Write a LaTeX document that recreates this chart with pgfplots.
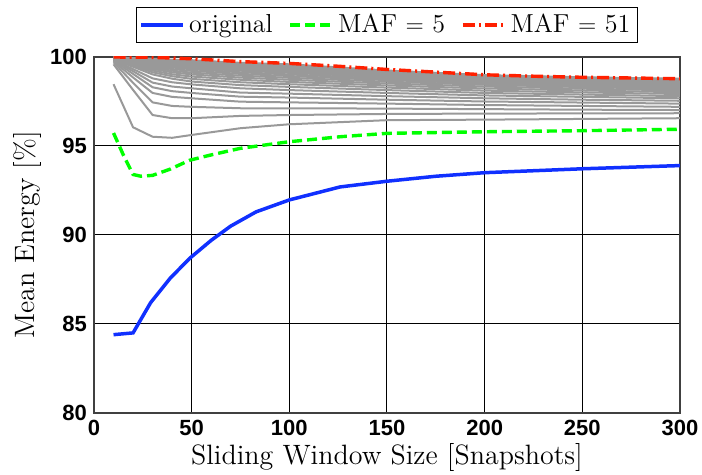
\documentclass[border=0pt]{standalone}
\usepackage{fontspec}
\usepackage{pgfplots}
\usepackage{pgfplotstable}
\pgfplotsset{compat=1.18}
\newfontfamily\ticksf{Liberation Sans}

\definecolor{origblue}{RGB}{16,48,255}
\definecolor{mafgreen}{RGB}{0,255,0}
\definecolor{mafred}{RGB}{255,32,0}
\definecolor{fangray}{RGB}{153,153,153}

% gray fan: MAF = 7, 9, ..., 49 (one column each)
\pgfplotstableread{
x   g1    g2    g3    g4    g5    g6    g7    g8    g9    g10   g11   g12   g13   g14   g15   g16   g17   g18   g19   g20   g21   g22
10  98.47 99.59 99.70 99.76 99.80 99.83 99.85 99.87 99.89 99.90 99.91 99.92 99.93 99.94 99.95 99.96 99.97 99.97 99.98 99.98 99.99 99.99
20  96.05 98.15 98.55 98.85 99.05 99.20 99.32 99.45 99.52 99.57 99.62 99.66 99.70 99.74 99.77 99.80 99.83 99.86 99.88 99.90 99.92 99.94
30  95.52 96.74 97.45 97.98 98.30 98.56 98.80 99.02 99.14 99.24 99.33 99.41 99.48 99.55 99.60 99.65 99.70 99.75 99.79 99.83 99.87 99.90
40  95.46 96.56 97.25 97.76 98.08 98.34 98.58 98.78 98.92 99.03 99.14 99.23 99.32 99.41 99.48 99.55 99.61 99.67 99.72 99.77 99.81 99.85
50  95.62 96.56 97.20 97.68 97.98 98.24 98.46 98.62 98.77 98.90 99.02 99.12 99.22 99.31 99.39 99.47 99.54 99.61 99.66 99.72 99.77 99.82
75  96.00 96.69 97.12 97.49 97.77 98.00 98.24 98.42 98.58 98.72 98.84 98.95 99.05 99.14 99.23 99.31 99.38 99.45 99.51 99.57 99.62 99.67
100 96.22 96.74 97.12 97.45 97.72 97.94 98.14 98.32 98.47 98.60 98.72 98.83 98.93 99.02 99.11 99.19 99.27 99.34 99.41 99.48 99.54 99.59
150 96.45 96.80 97.10 97.38 97.60 97.80 97.98 98.14 98.28 98.40 98.51 98.61 98.70 98.78 98.86 98.93 99.00 99.06 99.11 99.16 99.20 99.24
200 96.48 96.82 97.07 97.30 97.50 97.68 97.84 97.98 98.11 98.23 98.34 98.44 98.52 98.60 98.67 98.73 98.79 98.84 98.88 98.92 98.95 98.98
250 96.52 96.83 97.04 97.25 97.44 97.60 97.76 97.89 98.01 98.12 98.22 98.31 98.39 98.47 98.54 98.60 98.66 98.71 98.76 98.80 98.83 98.86
300 96.56 96.84 97.02 97.20 97.38 97.54 97.68 97.80 97.92 98.02 98.12 98.20 98.28 98.36 98.43 98.50 98.56 98.62 98.67 98.71 98.75 98.78
}\grays

\begin{document}
\begin{tikzpicture}
\begin{axis}[
  scale only axis, width=293pt, height=178pt,
  xmin=0, xmax=300, ymin=80, ymax=100,
  xtick={0,50,...,300}, ytick={80,85,...,100},
  grid=major, major grid style={black, line width=0.5pt},
  major tick length=0pt,
  axis line style={black!75, line width=0.6pt},
  tick label style={font=\fontsize{11}{13}\selectfont\ticksf\bfseries},
  /pgf/number format/assume math mode=true,
  label style={font=\fontsize{14}{16}\selectfont},
  xlabel={Sliding Window Size [Snapshots]},
  ylabel={Mean Energy [\%]},
  xlabel style={yshift=3pt},
  ylabel style={yshift=-2.5pt},
  legend columns=3,
  legend style={at={(0.5,1)}, anchor=south, yshift=7pt, draw=black,
    font=\fontsize{13}{15}\selectfont, inner sep=1.5pt,
    /tikz/every even column/.append style={column sep=6pt}},
  legend image code/.code={\draw[#1] (0pt,0pt) -- (21pt,0pt);},
]
\pgfplotsinvokeforeach{1,...,22}{
  \addplot[fangray, line width=1pt, forget plot] table[x=x, y=g#1] {\grays};
}
\addplot[origblue, line width=1.75pt] coordinates {
(10,84.40)(20,84.50)(29,86.20)(39,87.57)(49,88.69)(60,89.70)(70,90.50)(83,91.30)
(100,91.97)(126,92.70)(150,93.02)(175,93.30)(200,93.50)(250,93.72)(300,93.90)};
\addlegendentry{original}
\addplot[mafgreen, line width=1.7pt, dash pattern=on 5pt off 2.5pt] coordinates {
(10,95.73)(15,94.50)(20,93.40)(24,93.30)(30,93.35)(39,93.70)(49,94.20)(60,94.50)
(75,94.87)(100,95.24)(126,95.52)(150,95.71)(200,95.80)(250,95.86)(300,95.94)};
\addlegendentry{MAF $=$ 5}
\addplot[mafred, line width=1.7pt, dash pattern=on 6pt off 2pt on 1pt off 2pt] coordinates {
(10,100.00)(30,99.98)(50,99.90)(75,99.74)(100,99.64)(125,99.48)(150,99.30)
(175,99.15)(200,99.00)(225,98.92)(250,98.86)(275,98.82)(300,98.78)};
\addlegendentry{MAF $=$ 51}
\end{axis}
\pgfresetboundingbox
\path (-47pt,-31pt) rectangle (304pt,206.5pt);
\end{tikzpicture}
\end{document}
